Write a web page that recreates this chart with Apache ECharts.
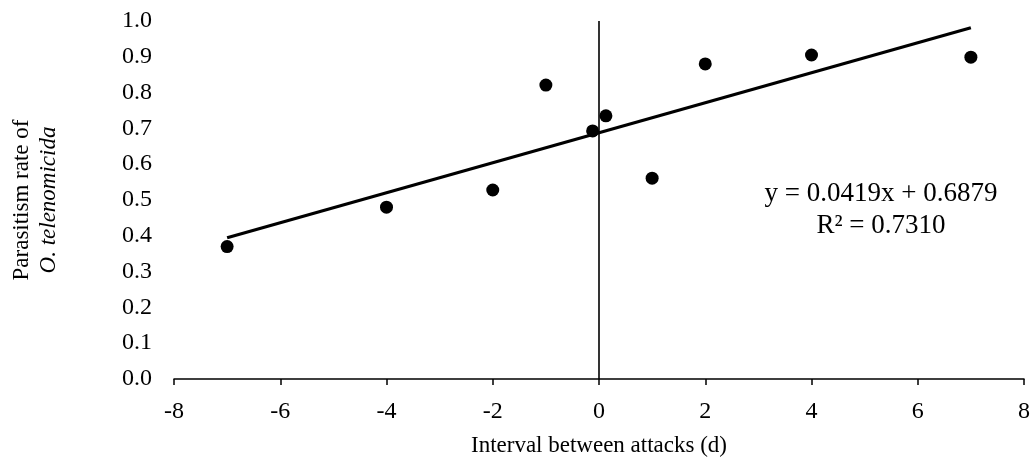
<!DOCTYPE html>
<html>
<head>
<meta charset="utf-8">
<script src="https://cdn.jsdelivr.net/npm/echarts@6/dist/echarts.min.js"></script>
<style>html,body{margin:0;padding:0;background:#fff}#c{width:1032px;height:460px}</style>
</head>
<body>
<div id="c"></div>
<script>
// Observed points: interval between attacks (d) vs parasitism rate
const intervals = [-7, -4, -2, -1, -0.12, 0.13, 1, 2, 4, 7];
const rates = [0.37, 0.48, 0.528, 0.821, 0.693, 0.735, 0.561, 0.88, 0.905, 0.899];
// Linear trendline endpoints (as drawn)
const trendX = [-7, 7];
const trendY = [0.3946, 0.9812];
const equationText = 'y = 0.0419x + 0.6879';
const r2Text = 'R² = 0.7310';
const xTicks = { min: -8, max: 8, interval: 2 };
const yTicks = { min: 0, max: 1, interval: 0.1 };

const font = 'Liberation Serif';
const chart = echarts.init(document.getElementById('c'), null, { renderer: 'canvas' });
chart.setOption({
  animation: false,
  backgroundColor: '#fff',
  grid: { left: 174, right: 8, top: 21, bottom: 81, containLabel: false, outerBoundsMode: 'none' },
  xAxis: {
    type: 'value', min: xTicks.min, max: xTicks.max, interval: xTicks.interval,
    name: 'Interval between attacks (d)', nameLocation: 'middle', nameGap: 55,
    nameTextStyle: { fontFamily: font, fontSize: 23, color: '#000' },
    axisLine: { onZero: false, lineStyle: { color: '#000', width: 1.5 } },
    axisTick: { show: true, length: 6, lineStyle: { color: '#000', width: 1.5 } },
    axisLabel: { fontFamily: font, fontSize: 24, color: '#000', margin: 21 },
    splitLine: { show: false }
  },
  yAxis: {
    type: 'value', min: yTicks.min, max: yTicks.max, interval: yTicks.interval,
    name: '{a|Parasitism rate of}\n{b|O. telenomicida}', nameLocation: 'middle', nameGap: 112, nameRotate: 90,
    nameTextStyle: {
      fontFamily: font, fontSize: 23, color: '#000', lineHeight: 27,
      rich: {
        a: { fontFamily: font, fontSize: 23, color: '#000', lineHeight: 27 },
        b: { fontFamily: font, fontSize: 23, color: '#000', fontStyle: 'italic', lineHeight: 27 }
      }
    },
    axisLine: { show: false },
    axisTick: { show: false },
    axisLabel: { fontFamily: font, fontSize: 24, color: '#000', margin: 22, formatter: v => v.toFixed(1) },
    splitLine: { show: false }
  },
  series: [
    {
      type: 'line', data: trendX.map((x, i) => [x, trendY[i]]), showSymbol: false, symbol: 'none',
      lineStyle: { color: '#000', width: 3.2 }, z: 2,
      markLine: {
        silent: true, symbol: 'none', label: { show: false },
        lineStyle: { color: '#000', width: 1.6, type: 'solid' },
        data: [[{ coord: [0, yTicks.min] }, { coord: [0, yTicks.max] }]]
      }
    },
    {
      type: 'scatter', data: intervals.map((x, i) => [x, rates[i]]),
      symbol: 'circle', symbolSize: 13, itemStyle: { color: '#000', opacity: 1 }, z: 3
    }
  ],
  graphic: [{
    type: 'text', x: 881, y: 178,
    style: { text: equationText + '\n' + r2Text, fontFamily: font, fontSize: 27, fill: '#000', align: 'center', textAlign: 'center', lineHeight: 32 }
  }]
});
</script>
</body>
</html>
